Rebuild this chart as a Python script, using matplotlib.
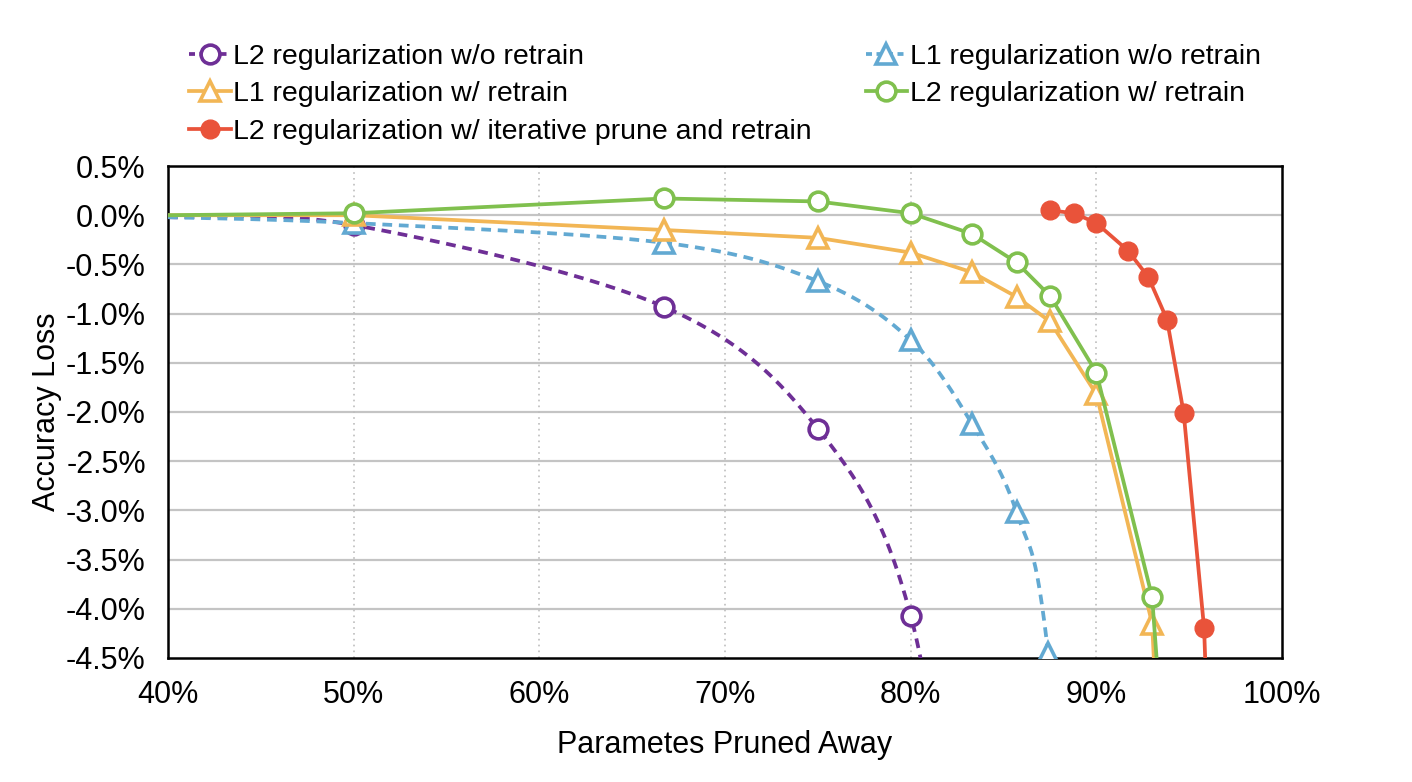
import numpy as np
import matplotlib.pyplot as plt

plt.rcParams['font.family'] = ['Liberation Sans', 'DejaVu Sans']

# values (x = % pruned, y = % accuracy loss)
# points below -4.5% lie outside the axis and only steer the clipped line ends
l2_noretrain_x = [40, 50, 66.7, 75, 80, 83.3]
l2_noretrain_y = [-0.02, -0.10, -0.93, -2.17, -4.07, -8.0]

l1_noretrain_x = [40, 50, 66.7, 75, 80, 83.3, 85.7, 87.4, 90]
l1_noretrain_y = [-0.02, -0.08, -0.28, -0.67, -1.27, -2.12, -3.02, -4.45, -10.0]

l1_retrain_x = [40, 50, 66.7, 75, 80, 83.3, 85.7, 87.5, 90, 93.0, 94.0]
l1_retrain_y = [0.0, 0.0, -0.15, -0.23, -0.38, -0.58, -0.83, -1.08, -1.82, -4.15, -8.0]

l2_retrain_x = [40, 50, 66.7, 75, 80, 83.3, 85.7, 87.5, 90, 93.0, 94.4]
l2_retrain_y = [0.0, 0.02, 0.17, 0.14, 0.02, -0.19, -0.48, -0.82, -1.60, -3.88, -7.5]

l2_iter_x = [87.5, 88.8, 90.0, 91.7, 92.8, 93.8, 94.7, 95.8, 96.7]
l2_iter_y = [0.05, 0.02, -0.08, -0.36, -0.63, -1.06, -2.01, -4.20, -9.0]

y_ticks = [0.5, 0.0, -0.5, -1.0, -1.5, -2.0, -2.5, -3.0, -3.5, -4.0, -4.5]
x_ticks = [40, 50, 60, 70, 80, 90, 100]


def smooth(x, y, n=30):
    # bezier path through the points, like a spreadsheet "smoothed line"
    p = np.column_stack([x, y]).astype(float)
    out = []
    for i in range(len(p) - 1):
        p0 = p[i - 1] if i > 0 else p[i]
        p1, p2 = p[i], p[i + 1]
        p3 = p[i + 2] if i + 2 < len(p) else p[i + 1]
        c1 = p1 + (p2 - p0) / 6
        c2 = p2 - (p3 - p1) / 6
        t = np.linspace(0, 1, n)[:, None]
        seg = (1 - t) ** 3 * p1 + 3 * (1 - t) ** 2 * t * c1 + 3 * (1 - t) * t ** 2 * c2 + t ** 3 * p2
        out.append(seg if i == 0 else seg[1:])
    out = np.vstack(out)
    return out[:, 0], out[:, 1]


purple = '#6e2f96'
blue = '#62a9d2'
orange = '#f2b655'
green = '#80c04e'
red = '#e9533a'

fig = plt.figure(figsize=(14.12, 7.82), dpi=100)
ax = fig.add_axes([0.119, 0.1586, 0.789, 0.6291])

lw = 2.7
ms = 13.5
mew = 2.6
dash = (2.6, 1.8)

# dashed series drawn smooth, markers on the read points
sx, sy = smooth(l2_noretrain_x, l2_noretrain_y)
ax.plot(sx, sy, color=purple, lw=lw, dashes=dash, zorder=3)
ax.plot(l2_noretrain_x[1:], l2_noretrain_y[1:], ls='none', marker='o', ms=ms,
        mfc='white', mec=purple, mew=mew, zorder=4)

sx, sy = smooth(l1_noretrain_x, l1_noretrain_y)
ax.plot(sx, sy, color=blue, lw=lw, dashes=dash, zorder=3)
ax.plot(l1_noretrain_x[1:], l1_noretrain_y[1:], ls='none', marker='^', ms=ms + 1,
        mfc='white', mec=blue, mew=mew, zorder=4)

ax.plot(l1_retrain_x, l1_retrain_y, color=orange, lw=lw, zorder=5)
ax.plot(l1_retrain_x[1:], l1_retrain_y[1:], ls='none', marker='^', ms=ms + 1,
        mfc='white', mec=orange, mew=mew, zorder=5)

ax.plot(l2_retrain_x, l2_retrain_y, color=green, lw=lw, zorder=6)
ax.plot(l2_retrain_x[1:], l2_retrain_y[1:], ls='none', marker='o', ms=ms,
        mfc='white', mec=green, mew=mew, zorder=6)

ax.plot(l2_iter_x, l2_iter_y, color=red, lw=lw, marker='o', ms=ms,
        mfc=red, mec=red, zorder=7)

ax.set_xlim(40, 100)
ax.set_ylim(-4.5, 0.5)
ax.set_xticks(x_ticks)
ax.set_yticks(y_ticks)
ax.set_xticklabels([f'{v}%' for v in x_ticks])
ax.set_yticklabels([f'{v:.1f}%' for v in y_ticks])
ax.tick_params(axis='x', length=0, labelsize=22, pad=16)
ax.tick_params(axis='y', length=0, labelsize=22, pad=16)

for v in y_ticks[1:-1]:
    ax.axhline(v, color='#c4c4c4', lw=1.6, zorder=1)
for v in x_ticks[1:-1]:
    ax.axvline(v, color='#bdbdbd', lw=1.2, ls=(0, (1, 2.5)), zorder=1)

for s in ax.spines.values():
    s.set_linewidth(1.8)
    s.set_color('black')

ax.set_xlabel('Parametes Pruned Away', fontsize=22, labelpad=14)
ax.set_ylabel('Accuracy Loss', fontsize=22, labelpad=3)

# legend handles
h_purple, = ax.plot([], [], color=purple, lw=lw, dashes=(1.6, 1.2), marker='o', ms=ms,
                    mfc='white', mec=purple, mew=mew)
h_blue, = ax.plot([], [], color=blue, lw=lw, dashes=(1.6, 1.2), marker='^', ms=ms + 1,
                  mfc='white', mec=blue, mew=mew)
h_orange, = ax.plot([], [], color=orange, lw=lw, marker='^', ms=ms + 1,
                    mfc='white', mec=orange, mew=mew)
h_green, = ax.plot([], [], color=green, lw=lw, marker='o', ms=ms,
                   mfc='white', mec=green, mew=mew)
h_red, = ax.plot([], [], color=red, lw=lw, marker='o', ms=ms, mfc=red, mec=red)

leg_kw = dict(loc='upper left', frameon=False, fontsize=20.5, handlelength=1.45,
              handletextpad=0.1, labelspacing=0.4, borderpad=0)
fig.legend([h_purple, h_orange, h_red],
           ['L2 regularization w/o retrain',
            'L1 regularization w/ retrain',
            'L2 regularization w/ iterative prune and retrain'],
           bbox_to_anchor=(0.124, 0.962), **leg_kw)
fig.legend([h_blue, h_green],
           ['L1 regularization w/o retrain',
            'L2 regularization w/ retrain'],
           bbox_to_anchor=(0.603, 0.962), **leg_kw)

fig.savefig('out.png', dpi=100)
